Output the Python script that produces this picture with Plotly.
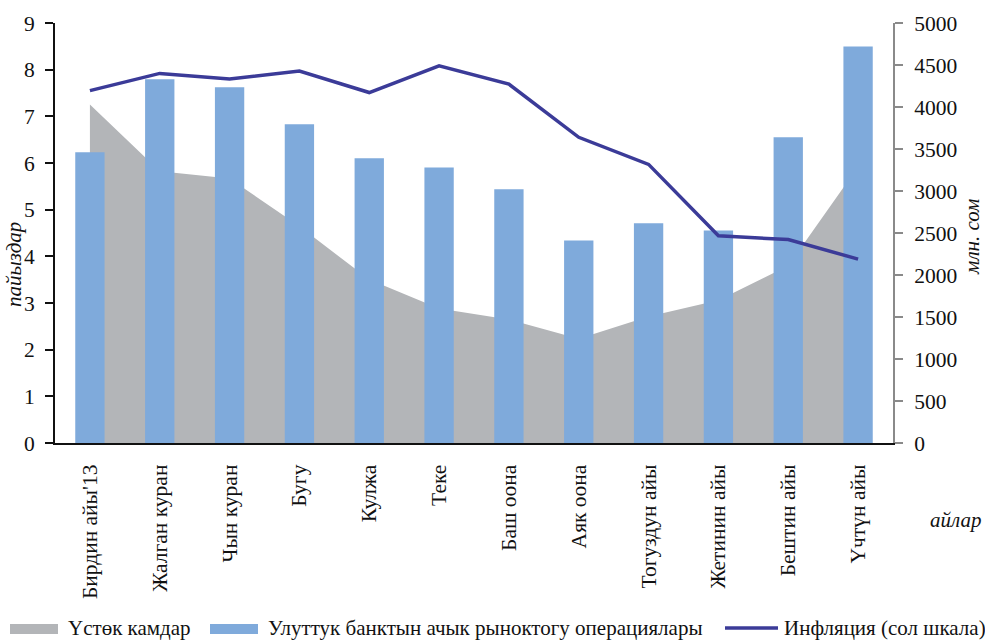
import plotly.graph_objects as go

categories = ["Бирдин айы'13", "Жалган куран", "Чын куран", "Бугу", "Кулжа", "Теке",
              "Баш оона", "Аяк оона", "Тогуздун айы", "Жетинин айы", "Бештин айы", "Үчтүн айы"]
reserves = [4030, 3235, 3150, 2580, 1945, 1600, 1470, 1240, 1505, 1700, 2110, 3290]   # млн. сом
operations = [3460, 4330, 4235, 3795, 3390, 3280, 3020, 2410, 2615, 2530, 3640, 4720]  # млн. сом
inflation = [7.55, 7.92, 7.80, 7.97, 7.51, 8.08, 7.69, 6.55, 5.97, 4.44, 4.36, 3.94]    # %

W, H = 985, 642
L, R, T, B = 55, 893, 23, 443
FONT = "Liberation Serif"
TICK = 21.5
LEG = 21

def px(x):
    return (x - L) / (R - L)

def py(y):
    return (B - y) / (B - T)

fig = go.Figure()
fig.add_trace(go.Scatter(x=categories, y=reserves, name="Үстөк камдар", mode="none",
                         fill="tozeroy", fillcolor="#B3B5B8", yaxis="y", showlegend=False))
fig.add_trace(go.Bar(x=categories, y=operations, name="Улуттук банктын ачык рыноктогу операциялары",
                     marker=dict(color="#7FAADB", line=dict(width=0)), width=0.42,
                     yaxis="y2", showlegend=False))
fig.add_trace(go.Scatter(x=categories, y=inflation, name="Инфляция (сол шкала)", mode="lines",
                         line=dict(color="#3B3B98", width=3.5), yaxis="y3", showlegend=False))

fig.update_layout(
    width=W, height=H,
    margin=dict(l=L, r=W - R, t=T, b=H - B),
    paper_bgcolor="white", plot_bgcolor="white",
    font=dict(family=FONT, size=LEG, color="#111111"),
    xaxis=dict(type="category", showgrid=False, showline=True, linecolor="#111111", linewidth=2,
               ticks="", tickangle=-90, ticklabelstandoff=11, tickfont=dict(size=TICK),
               range=[-0.5, 11.5]),
    yaxis=dict(range=[0, 5000], visible=False, showgrid=False, fixedrange=True),
    yaxis2=dict(range=[0, 5000], overlaying="y", side="right", showgrid=False, zeroline=False,
                showline=True, linecolor="#8A8A8A", linewidth=2, ticks="outside", ticklen=8,
                tickcolor="#8A8A8A", tickwidth=2, dtick=500, tickfont=dict(size=TICK),
                ticklabelstandoff=7),
    yaxis3=dict(range=[0, 9], overlaying="y", side="left", showgrid=False, zeroline=False,
                showline=True, linecolor="#111111", linewidth=2, ticks="outside", ticklen=8,
                tickcolor="#111111", tickwidth=2, dtick=1, tickfont=dict(size=TICK),
                ticklabelstandoff=6),
)

ann = []
ann.append(dict(text="<i>пайыздар</i>", x=px(14), y=py(265), xref="paper", yref="paper",
                xanchor="center", yanchor="middle",
                textangle=-90, showarrow=False, font=dict(size=LEG)))
ann.append(dict(text="<i>млн. сом</i>", x=px(972), y=py(237), xref="paper", yref="paper",
                xanchor="center", yanchor="middle",
                textangle=-90, showarrow=False, font=dict(size=LEG)))
ann.append(dict(text="<i>айлар</i>", x=px(983), y=py(520), xref="paper", yref="paper",
                xanchor="right", yanchor="middle", showarrow=False, font=dict(size=LEG)))

leg_y = 628
ann.append(dict(text="Үстөк камдар", x=px(66), y=py(leg_y), xref="paper", yref="paper",
                xanchor="left", yanchor="middle", showarrow=False, font=dict(size=LEG)))
ann.append(dict(text="Улуттук банктын ачык рыноктогу операциялары", x=px(266), y=py(leg_y),
                xref="paper", yref="paper", xanchor="left", yanchor="middle", showarrow=False,
                font=dict(size=LEG)))
ann.append(dict(text="Инфляция (сол шкала)", x=px(782), y=py(leg_y), xref="paper", yref="paper",
                xanchor="left", yanchor="middle", showarrow=False, font=dict(size=LEG)))

shapes = [
    dict(type="rect", xref="paper", yref="paper", x0=px(10), x1=px(58), y0=py(634), y1=py(624),
         fillcolor="#B3B5B8", line=dict(width=0)),
    dict(type="rect", xref="paper", yref="paper", x0=px(210), x1=px(258), y0=py(634), y1=py(624),
         fillcolor="#7FAADB", line=dict(width=0)),
    dict(type="line", xref="paper", yref="paper", x0=px(725), x1=px(778), y0=py(628), y1=py(628),
         line=dict(color="#3B3B98", width=3.5)),
]
fig.update_layout(annotations=ann, shapes=shapes)

fig.write_html("out.html", config={"displayModeBar": False},
               post_script="document.body.style.margin='0';document.body.style.overflow='hidden';")
